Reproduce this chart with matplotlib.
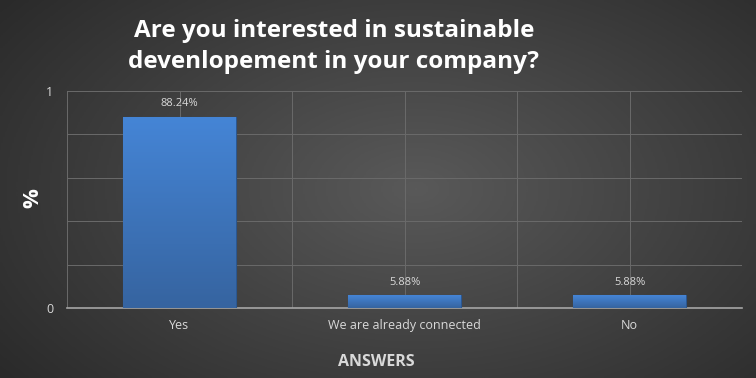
import numpy as np
import matplotlib
matplotlib.use("Agg")
import matplotlib.pyplot as plt
from matplotlib.colors import LinearSegmentedColormap

categories = ["Yes", "We are already connected", "No"]
values = [0.8824, 0.0588, 0.0588]
value_labels = ["88.24%", "5.88%", "5.88%"]
y_ticks = [0, 1]

TITLE_LINES = ["Are you interested in sustainable",
               "devenlopement in your company?"]
FONT = ["Open Sans", "DejaVu Sans"]

fig = plt.figure(figsize=(7.56, 3.78), dpi=100)

# dark radial background
bg = fig.add_axes([0, 0, 1, 1], zorder=-10)
xx, yy = np.meshgrid(np.linspace(0, 1, 400), np.linspace(0, 1, 200))
r = np.sqrt(((xx - 0.55) / 0.75) ** 2 + ((yy - 0.5) / 0.9) ** 2)
bg_cmap = LinearSegmentedColormap.from_list("bg", ["#595959", "#262626"])
bg.imshow(np.clip(r, 0, 1), cmap=bg_cmap, aspect="auto", extent=(0, 1, 0, 1),
          vmin=0, vmax=1)
bg.axis("off")

ax = fig.add_axes([67 / 756, 1 - 308 / 378, 675 / 756, 217 / 378])
ax.patch.set_alpha(0)
x = np.arange(len(categories))
bars = ax.bar(x, values, width=0.5, color="#3f7bc8", edgecolor="#2b5790",
              linewidth=0.8, zorder=3)

# vertical gradient inside each bar
grad = np.linspace(0, 1, 100).reshape(-1, 1)
bar_cmap = LinearSegmentedColormap.from_list("bar", ["#3664a0", "#4585d6"])
for b in bars:
    im = ax.imshow(grad, cmap=bar_cmap, aspect="auto", origin="lower",
                   extent=(b.get_x(), b.get_x() + b.get_width(), 0, b.get_height()),
                   zorder=3.5)
    im.set_clip_path(b)

for xi, v, lab in zip(x, values, value_labels):
    ax.text(xi, v + 0.035, lab, ha="center", va="bottom", color="#d9d9d9",
            fontsize=8, family=FONT)

ax.set_xlim(-0.5, len(categories) - 0.5)
ax.set_ylim(0, 1)
ax.set_yticks(y_ticks)
ax.set_yticks(np.arange(0.2, 1.0, 0.2), minor=True)
ax.set_xticks(x)
ax.set_xticks(np.arange(-0.5, len(categories), 0.5), minor=True)
ax.set_xticklabels(categories, color="#d9d9d9", fontsize=9, family=FONT)
ax.set_yticklabels([str(t) for t in y_ticks], color="#d9d9d9", fontsize=9, family=FONT)
ax.tick_params(which="both", length=0)
ax.tick_params(axis="x", pad=8)
ax.tick_params(axis="y", pad=10)
ax.grid(True, which="both", color="#6a6a6a", linewidth=0.7, zorder=0)
for side in ["top", "right", "left"]:
    ax.spines[side].set_visible(False)
ax.spines["bottom"].set_color("#a6a6a6")
ax.spines["bottom"].set_linewidth(1.2)

for line, base in zip(TITLE_LINES, [37, 68]):
    fig.text(334 / 756, 1 - base / 378, line, ha="center", va="baseline",
             color="white", fontsize=17.5, fontweight="bold", family=FONT)
fig.text(33 / 756, 1 - 198 / 378, "%", ha="center", va="center", rotation=90,
         color="white", fontsize=16, fontweight="bold", family=FONT)
fig.text(376 / 756, 1 - 366 / 378, "ANSWERS", ha="center", va="baseline",
         color="#d9d9d9", fontsize=11.5, fontweight="bold", family=FONT)

fig.savefig("out.png", dpi=100)
